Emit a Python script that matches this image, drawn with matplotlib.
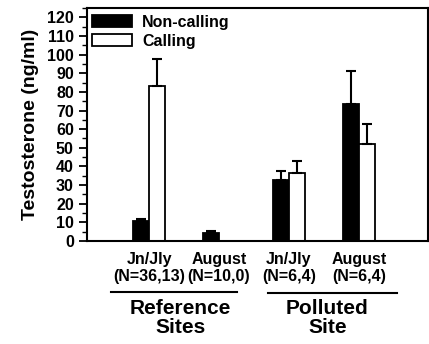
import numpy as np
import matplotlib.pyplot as plt
from matplotlib.ticker import MultipleLocator

plt.rcParams['font.family'] = ['Liberation Sans', 'DejaVu Sans']
plt.rcParams['font.weight'] = 'bold'
plt.rcParams['axes.labelweight'] = 'bold'

# data
groups = ['Jn/Jly\n(N=36,13)', 'August\n(N=10,0)', 'Jn/Jly\n(N=6,4)', 'August\n(N=6,4)']
noncalling = [10.5, 4.5, 32.5, 73.5]
noncalling_err = [1.5, 1.0, 5.0, 17.5]
calling = [83, np.nan, 36.5, 52]
calling_err = [14.5, np.nan, 6.5, 11]
sites = ['Reference\nSites', 'Polluted\nSite']

fig = plt.figure(figsize=(4.29, 3.44), dpi=100)
ax = fig.add_axes([87/429, 103/344, 341/429, 233/344])

x = np.arange(len(groups))
w = 0.235
ekw = dict(elinewidth=1.5, capthick=1.5, ecolor='black')
ax.bar(x - w/2, noncalling, w, color='black', edgecolor='black', lw=1.3,
       label='Non-calling', yerr=[np.zeros(4), noncalling_err], capsize=3.3,
       error_kw=ekw)
cm = ~np.isnan(calling)
ax.bar(x[cm] + w/2, np.array(calling)[cm], w, color='white', edgecolor='black', lw=1.3,
       label='Calling', yerr=[np.zeros(cm.sum()), np.array(calling_err)[cm]],
       capsize=3.3, error_kw=ekw)

ax.set_xlim(-0.886, 3.986)
ax.set_ylim(0, 125)
ax.yaxis.set_major_locator(MultipleLocator(10))
ax.yaxis.set_minor_locator(MultipleLocator(5))
ax.tick_params(axis='y', which='major', length=5.5, width=1.3, labelsize=11.5, pad=4)
ax.tick_params(axis='y', which='minor', length=3.5, width=1.0)
ax.set_xticks(x)
ax.set_xticklabels(groups, fontsize=11.5, linespacing=1.15)
ax.tick_params(axis='x', length=0, pad=8)
for s in ax.spines.values():
    s.set_linewidth(1.5)

ax.set_ylabel('Testosterone (ng/ml)', fontsize=14, labelpad=6)

leg = ax.legend(loc='upper left', bbox_to_anchor=(-0.012, 1.012), frameon=False,
                fontsize=11.5, handlelength=2.5, handleheight=0.8,
                handletextpad=0.6, labelspacing=0.25, borderaxespad=0.2)

tr = ax.get_xaxis_transform()
ax.plot([-0.543, 1.257], [-0.218, -0.218], color='black', lw=1.5,
        transform=tr, clip_on=False)
ax.plot([1.70, 3.54], [-0.225, -0.225], color='black', lw=1.5,
        transform=tr, clip_on=False)
ax.text(0.45, -0.25, sites[0], transform=tr, ha='center', va='top',
        fontsize=15, linespacing=1.0)
ax.text(2.55, -0.25, sites[1], transform=tr, ha='center', va='top',
        fontsize=15, linespacing=1.0)

fig.savefig('out.png', dpi=100)
